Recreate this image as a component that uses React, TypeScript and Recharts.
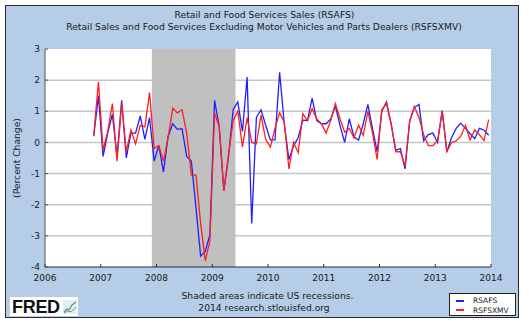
import React from "react";
import {
	CartesianGrid,
	Line,
	LineChart,
	ReferenceArea,
	XAxis,
	YAxis,
} from "recharts";

// monthly percent change, Nov 2006 .. Dec 2013
const firstMonth = { year: 2006, month: 11 };

const rsafs = [
	0.2, 1.5, -0.45, 0.3, 0.9, -0.45, 1.35, -0.5, 0.3, 0.3, 0.85, 0.1, 0.8, -0.6,
	-0.1, -0.95, 0.2, 0.6, 0.42, 0.44, -0.45, -0.6, -2.1, -3.65, -3.5, -2.95,
	1.35, 0.5, -1.55, -0.45, 1.05, 1.3, 0.35, 2.1, -2.6, 0.8, 1.05, 0.55, 0.08,
	0.08, 2.25, 0.6, -0.55, -0.1, 0.15, 0.72, 0.7, 1.42, 0.7, 0.6, 0.6, 0.75,
	1.17, 0.55, 0.0, 0.76, 0.18, 0.07, 0.6, 1.22, 0.44, -0.3, 1.0, 1.3, 0.6,
	-0.25, -0.2, -0.85, 0.68, 1.12, 1.22, 0.05, 0.25, 0.3, 0.0, 1.02, -0.3, 0.15,
	0.45, 0.62, 0.45, 0.28, 0.12, 0.45, 0.4, 0.23,
];

const rsfsxmv = [
	0.25, 1.95, -0.25, 0.35, 1.25, -0.6, 1.25, -0.3, 0.4, -0.05, 0.55, 0.5, 1.6,
	-0.2, -0.1, -0.6, 0.15, 1.1, 0.95, 1.05, 0.3, -1.05, -1.05, -2.6, -3.8, -3.15,
	0.95, 0.5, -1.55, -0.4, 0.7, 1.0, -0.15, 0.8, 0.0, -0.05, 0.88, 0.1, -0.15,
	0.45, 0.95, 0.65, -0.85, 0.0, -0.33, 0.92, 0.7, 1.08, 0.75, 0.6, 0.3, 0.7,
	1.25, 0.76, 0.33, 0.45, 0.15, 0.55, 0.23, 1.0, 0.3, -0.55, 1.05, 1.25, 0.6,
	-0.3, -0.3, -0.75, 0.7, 1.15, 0.8, 0.25, -0.1, -0.1, 0.06, 1.0, -0.3, 0.0,
	0.05, 0.2, 0.55, 0.08, 0.4, 0.25, 0.06, 0.73,
];

const seriesNames = ["RSAFS", "RSFSXMV"];
const yearTicks = [2006, 2007, 2008, 2009, 2010, 2011, 2012, 2013, 2014];
const pctTicks = [-4, -3, -2, -1, 0, 1, 2, 3];

// recession: Dec 2007 - Jun 2009
const recessionStart = { year: 2007, month: 12 };
const recessionEnd = { year: 2009, month: 6 };

const BLUE = "#1f1fff";
const RED = "#ff1f1f";

const monthStart = (m: { year: number; month: number }) =>
	m.year + (m.month - 1) / 12;

const rows = rsafs.map((v, i) => {
	const idx = firstMonth.month - 1 + i;
	const year = firstMonth.year + Math.floor(idx / 12);
	const month = (idx % 12) + 1;
	return {
		t: year + (month - 0.5) / 12,
		rsafs: v,
		rsfsxmv: rsfsxmv[i],
	};
});

const FONT = '"DejaVu Sans", Verdana, sans-serif';

function Caption({ cx, cy, text, size = 9.2 }: { cx: number; cy: number; text: string; size?: number }) {
	return (
		<div
			style={{
				position: "absolute",
				left: cx - 250,
				width: 500,
				top: cy - 6,
				height: 12,
				lineHeight: "12px",
				textAlign: "center",
				fontFamily: FONT,
				fontSize: size,
				color: "#1a1a1a",
				whiteSpace: "nowrap",
			}}
		>
			{text}
		</div>
	);
}

function LegendBox() {
	const colors = [BLUE, RED];
	return (
		<div
			style={{
				position: "absolute",
				left: 449,
				top: 293,
				width: 67,
				height: 23,
				background: "#fff",
				border: "1px solid #222",
				padding: "2px 0 0 6px",
				boxSizing: "border-box",
			}}
		>
			{seriesNames.map((name, i) => (
				<div key={name} style={{ display: "flex", alignItems: "center", height: 9.5 }}>
					<span
						style={{
							display: "inline-block",
							width: 8,
							height: 2,
							background: colors[i],
							marginRight: 9,
						}}
					/>
					<span style={{ fontFamily: FONT, fontSize: 7.5, color: "#222" }}>
						{name}
					</span>
				</div>
			))}
		</div>
	);
}

export default function App() {
	return (
		<div
			style={{
				position: "absolute",
				left: 0,
				top: 0,
				width: 529,
				height: 326,
				background: "#fff",
			}}
		>
			<div
				style={{
					position: "absolute",
					left: 5,
					top: 5,
					width: 512,
					height: 311,
					background: "#b5cde6",
					border: "1px solid #2a2a2a",
				}}
			/>
			<LineChart
				width={529}
				height={326}
				data={rows}
				margin={{ top: 49, right: 38, bottom: 39, left: 5 }}
				style={{ position: "absolute", left: 0, top: 0 }}
			>
				<CartesianGrid
					vertical={false}
					horizontalValues={pctTicks.slice(1, -1)}
					stroke="#c6c6c6"
					strokeWidth={1.5}
					fill="#ffffff"
					fillOpacity={1}
				/>
				<ReferenceArea
					x1={monthStart(recessionStart)}
					x2={monthStart(recessionEnd)}
					fill="#c0c0c0"
					fillOpacity={1}
					stroke="none"
				/>
				<XAxis
					dataKey="t"
					type="number"
					domain={[2006, 2014]}
					ticks={yearTicks}
					allowDataOverflow
					height={20}
					stroke="#1d2b48"
					tickSize={-3}
					tickMargin={11}
					tick={{ fill: "#1a1a1a", fontSize: 9, fontFamily: FONT }}
				/>
				<YAxis
					type="number"
					domain={[-4, 3]}
					ticks={pctTicks}
					width={40}
					stroke="#555"
					tickSize={-3}
					tickMargin={8}
					tick={{ fill: "#1a1a1a", fontSize: 9, fontFamily: FONT }}
					label={{
						value: "(Percent Change)",
						angle: -90,
						position: "center",
						dx: -8,
						style: { fill: "#1a1a1a", fontSize: 9.2, fontFamily: FONT },
					}}
				/>
				<Line
					type="linear"
					dataKey="rsafs"
					name={seriesNames[0]}
					stroke={BLUE}
					strokeWidth={1.3}
					dot={false}
					isAnimationActive={false}
				/>
				<Line
					type="linear"
					dataKey="rsfsxmv"
					name={seriesNames[1]}
					stroke={RED}
					strokeWidth={1.3}
					dot={false}
					isAnimationActive={false}
				/>
			</LineChart>
			<Caption cx={264.5} cy={15} text="Retail and Food Services Sales (RSAFS)" />
			<Caption
				cx={264}
				cy={27}
				text="Retail Sales and Food Services Excluding Motor Vehicles and Parts Dealers (RSFSXMV)"
			/>
			<Caption cx={267.5} cy={296} text="Shaded areas indicate US recessions." />
			<Caption cx={264} cy={308} text="2014 research.stlouisfed.org" />
			<LegendBox />
			<div
				style={{
					position: "absolute",
					left: 10,
					top: 297,
					width: 68,
					height: 19,
					background: "#fff",
					display: "flex",
					alignItems: "center",
				}}
			>
				<span
					style={{
						fontFamily: '"Liberation Sans", Arial, sans-serif',
						fontWeight: 900,
						fontSize: 18,
						lineHeight: "18px",
						color: "#111",
						marginLeft: 2,
						letterSpacing: -0.3,
					}}
				>
					FRED
				</span>
				<svg width={14} height={14} style={{ marginLeft: 3 }}>
					<rect x={0} y={0} width={14} height={14} fill="#e4ecf4" />
					<polyline
						points="1,12 4,9 6,10 9,5 13,2"
						fill="none"
						stroke="#5a9a4a"
						strokeWidth={1.2}
					/>
					<polyline
						points="1,13 5,11 8,12 13,7"
						fill="none"
						stroke="#6f8fc0"
						strokeWidth={1}
					/>
				</svg>
			</div>
		</div>
	);
}
